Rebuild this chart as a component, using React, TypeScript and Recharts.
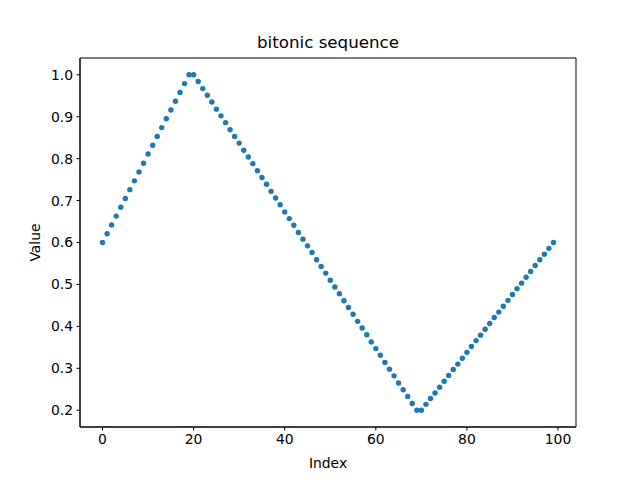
import { ScatterChart, Scatter, XAxis, YAxis, ReferenceArea } from "recharts";

// values, index 0..99
const rising = [
  0.6, 0.621, 0.642, 0.663, 0.684, 0.705, 0.726, 0.747, 0.768, 0.789,
  0.811, 0.832, 0.853, 0.874, 0.895, 0.916, 0.937, 0.958, 0.979, 1.0,
];
const falling = [
  1.0, 0.984, 0.967, 0.951, 0.935, 0.918, 0.902, 0.886, 0.869, 0.853,
  0.837, 0.82, 0.804, 0.788, 0.771, 0.755, 0.739, 0.722, 0.706, 0.69,
  0.673, 0.657, 0.641, 0.624, 0.608, 0.592, 0.576, 0.559, 0.543, 0.527,
  0.51, 0.494, 0.478, 0.461, 0.445, 0.429, 0.412, 0.396, 0.38, 0.363,
  0.347, 0.331, 0.314, 0.298, 0.282, 0.265, 0.249, 0.233, 0.216, 0.2,
];
const risingAgain = [
  0.2, 0.214, 0.228, 0.241, 0.255, 0.269, 0.283, 0.297, 0.31, 0.324,
  0.338, 0.352, 0.366, 0.379, 0.393, 0.407, 0.421, 0.434, 0.448, 0.462,
  0.476, 0.49, 0.503, 0.517, 0.531, 0.545, 0.559, 0.572, 0.586, 0.6,
];
const values = [...rising, ...falling, ...risingAgain];
const xTicks = [0, 20, 40, 60, 80, 100];
const yTicks = [0.2, 0.3, 0.4, 0.5, 0.6, 0.7, 0.8, 0.9, 1.0];

const data = values.map((value, index) => ({ index, value }));

const font = "DejaVu Sans, sans-serif";
const tickStyle = { fontSize: 13.9, fill: "#000", fontFamily: font };

const Dot = (props: any) => (
  <circle cx={props.cx} cy={props.cy} r={2.7} fill="#1f77b4" />
);

export default function App() {
  return (
    <div style={{ position: "fixed", left: 0, top: 0, width: 640, height: 480, background: "#fff", fontFamily: font }}>
      <div
        style={{
          position: "absolute",
          left: 80,
          width: 496,
          top: 32,
          textAlign: "center",
          fontSize: 16.7,
          color: "#000",
        }}
      >
        bitonic sequence
      </div>
      <ScatterChart width={640} height={480} margin={{ top: 58, right: 64, bottom: 23, left: 20 }}>
        <XAxis
          type="number"
          dataKey="index"
          domain={[-4.95, 103.95]}
          ticks={xTicks}
          tick={tickStyle}
          tickSize={3.5}
          tickMargin={3.5}
          height={30}
          axisLine={{ stroke: "#000" }}
          tickLine={{ stroke: "#000" }}
          allowDataOverflow
          label={{ value: "Index", position: "bottom", offset: 1, style: { fontSize: 13.9, fill: "#000", fontFamily: font } }}
        />
        <YAxis
          type="number"
          dataKey="value"
          domain={[0.16, 1.04]}
          ticks={yTicks}
          tickFormatter={(v: number) => v.toFixed(1)}
          tick={tickStyle}
          tickSize={3.5}
          tickMargin={3.5}
          width={60}
          axisLine={{ stroke: "#000" }}
          tickLine={{ stroke: "#000" }}
          allowDataOverflow
          label={{ value: "Value", angle: -90, position: "insideLeft", offset: 15, style: { fontSize: 13.9, fill: "#000", fontFamily: font, textAnchor: "middle" } }}
        />
        <ReferenceArea x1={-4.95} x2={103.95} y1={0.16} y2={1.04} fill="none" stroke="#000" strokeWidth={1} />
        <Scatter data={data} shape={Dot} isAnimationActive={false} />
      </ScatterChart>
    </div>
  );
}
